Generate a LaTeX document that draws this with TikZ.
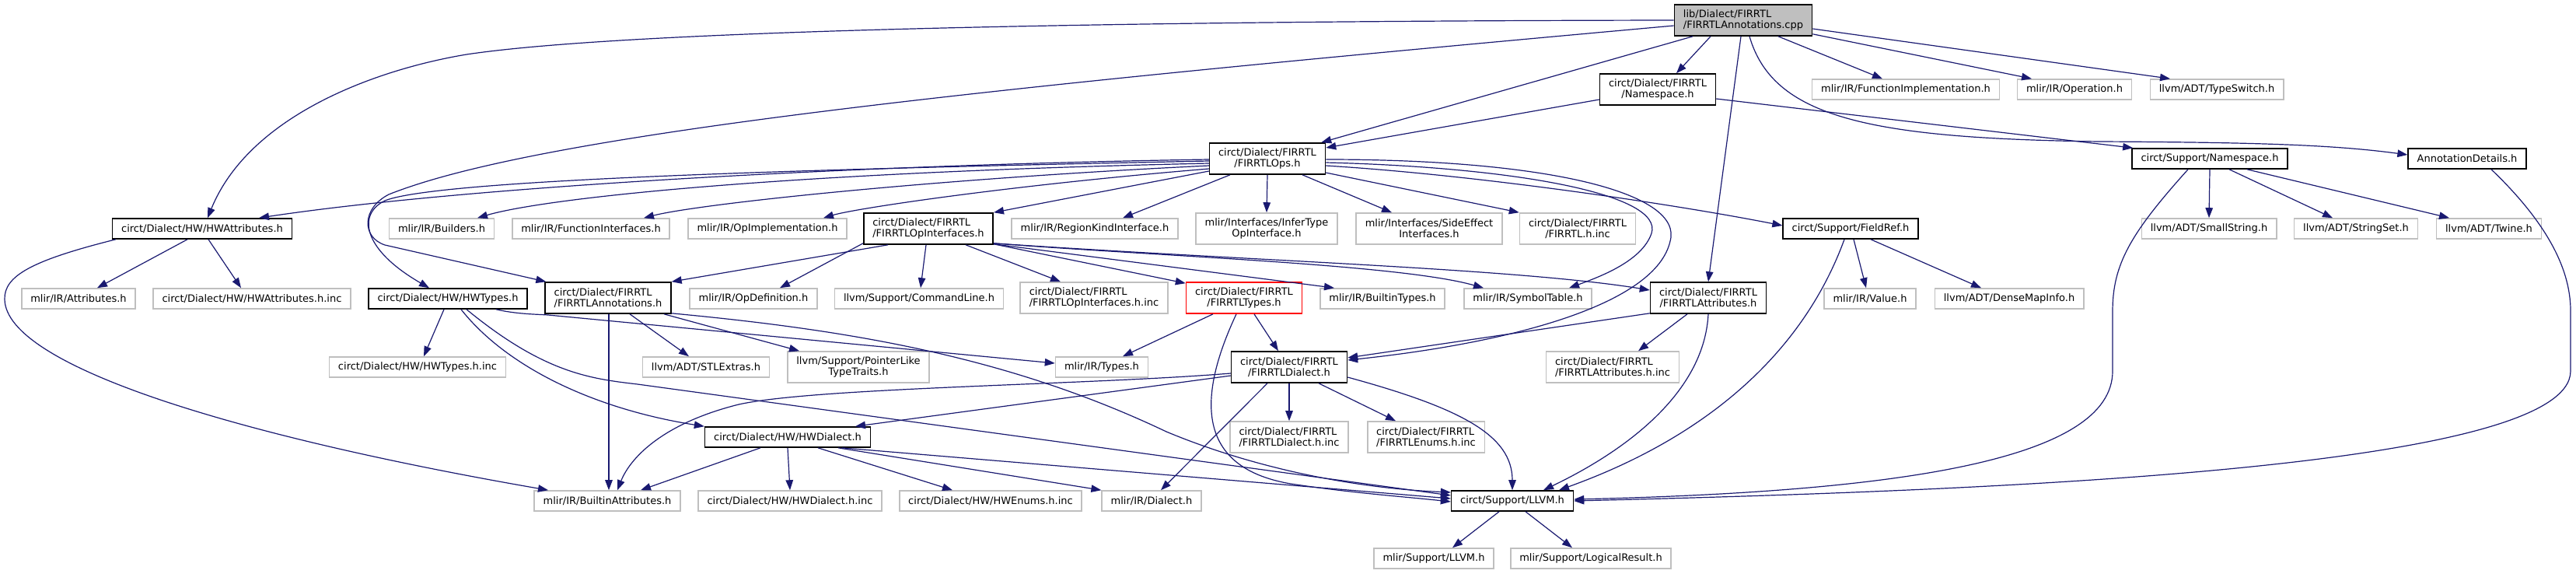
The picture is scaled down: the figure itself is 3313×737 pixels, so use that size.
\documentclass[tikz,border=0pt]{standalone}
\usepackage{fontspec}
\setmainfont{DejaVu Sans}
\usetikzlibrary{arrows.meta}
\definecolor{edgeblue}{RGB}{25,25,112}
\definecolor{boxgray}{RGB}{191,191,191}
\begin{document}
\begin{tikzpicture}[x=1pt, y=-1pt,
    font=\fontsize{13}{14}\selectfont,
    box/.style={draw=black, line width=1.6pt, fill=white, inner xsep=11.5pt, inner ysep=3pt, minimum height=26pt, align=center},
    ext/.style={box, draw=boxgray},
    two/.style={minimum height=40pt},
    lft/.style={align=left},
    e/.style={draw=edgeblue, line width=1.2pt, -{Triangle[length=13pt,width=9.5pt]}}]
  \useasboundingbox (0,0) rectangle (3313,737);

  \node[box, fill=boxgray, two, lft] (cpp) at (2242,26) {lib/Dialect/FIRRTL\\/FIRRTLAnnotations.cpp};
  \node[box, two] (nsF) at (2132,115) {circt/Dialect/FIRRTL\\/Namespace.h};
  \node[ext] (fimpl) at (2451,115) {mlir/IR/FunctionImplementation.h};
  \node[ext] (oper) at (2668,115) {mlir/IR/Operation.h};
  \node[ext] (tswitch) at (2851,115) {llvm/ADT/TypeSwitch.h};

  \node[box, two] (ops) at (1630,204) {circt/Dialect/FIRRTL\\/FIRRTLOps.h};
  \node[box] (nsS) at (2842,204) {circt/Support/Namespace.h};
  \node[box] (adet) at (3173,204) {AnnotationDetails.h};

  \node[box] (hwattr) at (260,294) {circt/Dialect/HW/HWAttributes.h};
  \node[ext] (build) at (568,294) {mlir/IR/Builders.h};
  \node[ext] (fint) at (760,294) {mlir/IR/FunctionInterfaces.h};
  \node[ext] (opimpl) at (987,294) {mlir/IR/OpImplementation.h};
  \node[box, two, lft] (opif) at (1194,294) {circt/Dialect/FIRRTL\\/FIRRTLOpInterfaces.h};
  \node[ext] (region) at (1408,294) {mlir/IR/RegionKindInterface.h};
  \node[ext, two] (infer) at (1629,294) {mlir/Interfaces/InferType\\OpInterface.h};
  \node[ext, two] (side) at (1838,294) {mlir/Interfaces/SideEffect\\Interfaces.h};
  \node[ext, two] (finc) at (2029,294) {circt/Dialect/FIRRTL\\/FIRRTL.h.inc};
  \node[box] (fref) at (2380,294) {circt/Support/FieldRef.h};
  \node[ext] (sstr) at (2841,294) {llvm/ADT/SmallString.h};
  \node[ext] (sset) at (3030,294) {llvm/ADT/StringSet.h};
  \node[ext] (twine) at (3201,294) {llvm/ADT/Twine.h};

  \node[ext] (attrs) at (101,384) {mlir/IR/Attributes.h};
  \node[ext] (hwattrinc) at (324,384) {circt/Dialect/HW/HWAttributes.h.inc};
  \node[box] (hwtypes) at (576,384) {circt/Dialect/HW/HWTypes.h};
  \node[box, two, lft] (ann) at (782,383) {circt/Dialect/FIRRTL\\/FIRRTLAnnotations.h};
  \node[ext] (opdef) at (969,384) {mlir/IR/OpDefinition.h};
  \node[ext] (cmd) at (1182,384) {llvm/Support/CommandLine.h};
  \node[ext, two, lft] (opifinc) at (1407,383) {circt/Dialect/FIRRTL\\/FIRRTLOpInterfaces.h.inc};
  \node[box, two, draw=red] (types) at (1600,383) {circt/Dialect/FIRRTL\\/FIRRTLTypes.h};
  \node[ext] (btypes) at (1778,384) {mlir/IR/BuiltinTypes.h};
  \node[ext] (symtab) at (1965,384) {mlir/IR/SymbolTable.h};
  \node[box, two] (attrF) at (2197,383) {circt/Dialect/FIRRTL\\/FIRRTLAttributes.h};
  \node[ext] (value) at (2405,384) {mlir/IR/Value.h};
  \node[ext] (dmap) at (2584,384) {llvm/ADT/DenseMapInfo.h};

  \node[ext] (hwtinc) at (537,472) {circt/Dialect/HW/HWTypes.h.inc};
  \node[ext] (stl) at (908,472) {llvm/ADT/STLExtras.h};
  \node[ext, two] (ptr) at (1104,472) {llvm/Support/PointerLike\\TypeTraits.h};
  \node[ext] (irtypes) at (1417,472) {mlir/IR/Types.h};
  \node[box, two] (dialectF) at (1658,472) {circt/Dialect/FIRRTL\\/FIRRTLDialect.h};
  \node[ext, two, lft] (attrFinc) at (2074,472) {circt/Dialect/FIRRTL\\/FIRRTLAttributes.h.inc};

  \node[box] (hwdialect) at (1013,562) {circt/Dialect/HW/HWDialect.h};
  \node[ext, two, lft] (dinc) at (1658,562) {circt/Dialect/FIRRTL\\/FIRRTLDialect.h.inc};
  \node[ext, two, lft] (enums) at (1834,562) {circt/Dialect/FIRRTL\\/FIRRTLEnums.h.inc};

  \node[ext] (battr) at (781,644) {mlir/IR/BuiltinAttributes.h};
  \node[ext] (hwdinc) at (1016,644) {circt/Dialect/HW/HWDialect.h.inc};
  \node[ext] (hwenums) at (1274,644) {circt/Dialect/HW/HWEnums.h.inc};
  \node[ext] (irdialect) at (1481,644) {mlir/IR/Dialect.h};
  \node[box] (llvmC) at (1945,644) {circt/Support/LLVM.h};
  \node[ext] (llvmM) at (1844,718) {mlir/Support/LLVM.h};
  \node[ext] (logical) at (2046,718) {mlir/Support/LogicalResult.h};

  \draw[e] (cpp.west) .. controls (1400,27) and (800,40) .. (600,70) .. controls (480,90) and (320,150) .. ([xshift=7pt]hwattr.north);
  \draw[e] ([yshift=-7pt]cpp.west) .. controls (1300,110) and (700,170) .. (500,250) .. controls (465,268) and (465,305) .. (495,315) -- ([xshift=2pt]ann.north west);
  \draw[e] ([xshift=-65pt]cpp.south) -- ([xshift=-6pt]ops.north east);
  \draw[e] ([xshift=-42pt]cpp.south) -- ([xshift=24pt]nsF.north);
  \draw[e] ([xshift=45pt]cpp.south) -- ([xshift=-30pt]fimpl.north);
  \draw[e] ([yshift=3pt]cpp.south east) -- ([xshift=-55pt]oper.north);
  \draw[e] ([yshift=-11pt]cpp.east) -- ([xshift=-60pt]tswitch.north);
  \draw[e] ([xshift=8pt]cpp.south) .. controls (2280,150) and (2400,178) .. (2700,182) .. controls (2900,183) and (3000,186) .. ([yshift=5pt]adet.west);
  \draw[e] ([xshift=-3pt]cpp.south) -- (attrF.north);

  \draw[e] ([yshift=-13pt]nsF.west) -- ([yshift=14pt]ops.east);
  \draw[e] ([yshift=-12pt]nsF.east) -- ([xshift=2pt]nsS.north west);

  \draw[e] ([yshift=-1pt]ops.west) .. controls (1100,212) and (600,240) .. ([xshift=73pt]hwattr.north);
  \draw[e] ([yshift=-6pt]ops.west) .. controls (1000,222) and (700,255) .. ([xshift=46pt]build.north);
  \draw[e] ([yshift=-9pt]ops.west) .. controls (1200,230) and (900,262) .. ([xshift=68pt]fint.north);
  \draw[e] ([yshift=-13pt]ops.west) .. controls (1300,238) and (1100,268) .. ([xshift=72pt]opimpl.north);
  \draw[e] ([yshift=-3pt]ops.west) .. controls (1000,218) and (560,232) .. (495,258) .. controls (460,275) and (465,320) .. ([xshift=-24pt]hwtypes.north);
  \draw[e] ([yshift=-16pt]ops.west) -- (opif.north east);
  \draw[e] ([xshift=-48pt]ops.south) -- ([xshift=36pt]region.north);
  \draw[e] (ops.south) -- (infer.north);
  \draw[e] ([xshift=45pt]ops.south) -- ([xshift=-48pt]side.north);
  \draw[e] ([yshift=-18pt]ops.east) -- (finc.north west);
  \draw[e] ([yshift=-9pt]ops.east) .. controls (1900,225) and (2150,262) .. ([yshift=4pt]fref.west);
  \draw[e] ([yshift=-5pt]ops.east) .. controls (1950,215) and (2140,250) .. (2124,300) .. controls (2112,335) and (2060,355) .. ([xshift=53pt]symtab.north);
  \draw[e] ([yshift=-1pt]ops.east) .. controls (2000,205) and (2165,250) .. (2148,310) .. controls (2130,390) and (1950,440) .. ([yshift=9pt]dialectF.east);

  \draw[e] ([xshift=-52pt]opif.south) -- (ann.north east);
  \draw[e] ([yshift=2pt]opif.south west) -- ([xshift=34pt]opdef.north);
  \draw[e] ([xshift=-3pt]opif.south) -- ([xshift=2pt]cmd.north);
  \draw[e] ([xshift=48pt]opif.south) -- ([xshift=-43pt]opifinc.north);
  \draw[e] ([yshift=1pt]opif.south east) -- ([yshift=-2pt]types.north west);
  \draw[e] ([yshift=1pt]opif.south east) -- ([xshift=-62pt]btypes.north);
  \draw[e] ([yshift=2pt]opif.south east) .. controls (1500,330) and (1800,340) .. ([xshift=-57pt]symtab.north);
  \draw[e] ([yshift=2pt]opif.south east) .. controls (1600,335) and (1950,345) .. ([yshift=10pt]attrF.west);

  \draw[e] ([yshift=1pt]attrF.south west) -- ([yshift=12pt]dialectF.east);
  \draw[e] ([xshift=-27pt]attrF.south) -- ([xshift=33pt]attrFinc.north);
  \draw[e] (attrF.south) .. controls (2192,500) and (2100,575) .. ([xshift=40pt]llvmC.north);

  \draw[e] ([xshift=-40pt]types.south) -- ([xshift=27pt]irtypes.north);
  \draw[e] ([xshift=13pt]types.south) -- ([xshift=-14pt]dialectF.north);
  \draw[e] ([xshift=-10pt]types.south) .. controls (1545,500) and (1530,600) .. (1660,622) .. controls (1740,634) and (1800,638) .. ([yshift=-1pt]llvmC.west);

  \draw[e] (dialectF.south) -- (dinc.north);
  \draw[e] ([xshift=38pt]dialectF.south) -- ([xshift=-39pt]enums.north);
  \draw[e] ([xshift=-28pt]dialectF.south) -- ([xshift=12pt]irdialect.north);
  \draw[e] ([yshift=-13pt]dialectF.east) .. controls (1880,525) and (1945,560) .. (llvmC.north);
  \draw[e] ([yshift=-11pt]dialectF.west) -- ([xshift=87pt]hwdialect.north);
  \draw[e] ([yshift=-8pt]dialectF.west) .. controls (1400,495) and (1050,498) .. (950,520) .. controls (850,545) and (810,590) .. ([xshift=13pt]battr.north);

  \draw[e] ([xshift=-19pt]hwattr.south) -- ([xshift=24pt]attrs.north);
  \draw[e] ([xshift=8pt]hwattr.south) -- ([xshift=-14pt]hwattrinc.north);
  \draw[e] ([xshift=5pt]hwattr.south west) .. controls (40,335) and (5,355) .. (6,385) .. controls (8,470) and (300,560) .. ([xshift=-76pt]battr.north);

  \draw[e] ([xshift=-5pt]hwtypes.south) -- ([xshift=8pt]hwtinc.north);
  \draw[e] ([xshift=17pt]hwtypes.south) .. controls (650,470) and (760,525) .. (hwdialect.north west);
  \draw[e] ([xshift=62pt]hwtypes.south) .. controls (665,404) and (690,404) .. (705,405) -- ([yshift=5pt]irtypes.west);
  \draw[e] ([xshift=24pt]hwtypes.south) .. controls (700,480) and (760,487) .. (820,494) -- ([yshift=7pt]llvmC.west);

  \draw[e] ([xshift=1pt]ann.south) -- ([xshift=2pt]battr.north);
  \draw[e] ([xshift=28pt]ann.south) -- ([xshift=-22pt]stl.north);
  \draw[e] ([xshift=72pt]ann.south) -- ([xshift=-76pt]ptr.north);
  \draw[e] ([yshift=1pt]ann.south east) .. controls (1100,425) and (1300,460) .. (1500,555) .. controls (1620,605) and (1750,628) .. ([yshift=11pt]llvmC.west);

  \draw[e] ([xshift=-35pt]hwdialect.south) -- ([xshift=43pt]battr.north);
  \draw[e] (hwdialect.south) -- (hwdinc.north);
  \draw[e] ([xshift=39pt]hwdialect.south) -- ([xshift=-49pt]hwenums.north);
  \draw[e] ([xshift=65pt]hwdialect.south) -- (irdialect.north west);
  \draw[e] ([xshift=70pt]hwdialect.south) -- ([yshift=3pt]llvmC.west);

  \draw[e] ([xshift=-17pt]llvmC.south) -- ([xshift=24pt]llvmM.north);
  \draw[e] ([xshift=17pt]llvmC.south) -- ([xshift=-24pt]logical.north);

  \draw[e] ([xshift=-8pt]fref.south) .. controls (2320,450) and (2200,560) .. ([xshift=60pt]llvmC.north);
  \draw[e] ([xshift=4pt]fref.south) -- ([xshift=-5pt]value.north);
  \draw[e] ([xshift=26pt]fref.south) -- ([xshift=-36pt]dmap.north);

  \draw[e] ([xshift=-28pt]nsS.south) .. controls (2740,300) and (2717,340) .. (2717,400) -- (2717,477) .. controls (2717,590) and (2450,632) .. ([yshift=2pt]llvmC.east);
  \draw[e] (nsS.south) -- (sstr.north);
  \draw[e] ([xshift=25pt]nsS.south) -- ([xshift=-30pt]sset.north);
  \draw[e] ([xshift=48pt]nsS.south) -- ([xshift=-51pt]twine.north);

  \draw[e] ([xshift=31pt]adet.south) .. controls (3290,300) and (3306,360) .. (3306,400) -- (3306,477) .. controls (3306,600) and (2600,630) .. (llvmC.east);
\end{tikzpicture}
\end{document}
